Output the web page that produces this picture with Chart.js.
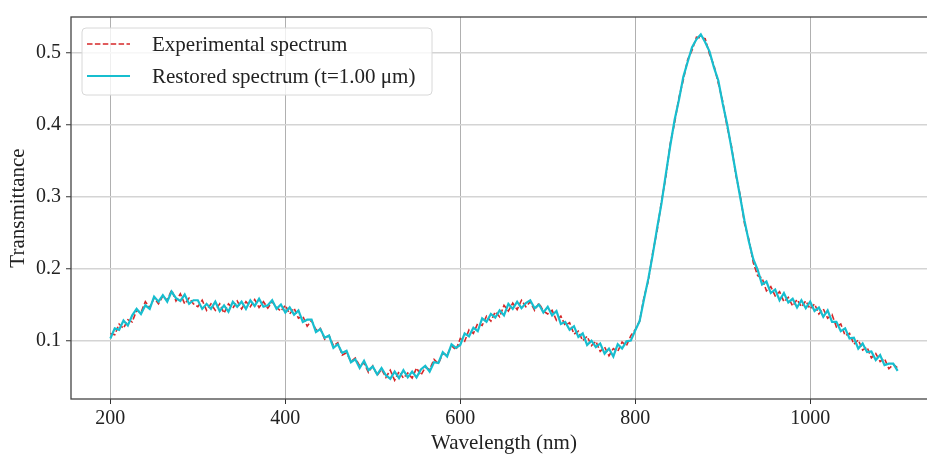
<!DOCTYPE html>
<html>
<head>
<meta charset="utf-8">
<script src="https://cdn.jsdelivr.net/npm/chart.js@4"></script>
<style>
  html, body { margin: 0; padding: 0; background: #fff; overflow: hidden; }
  #wrap { width: 945px; height: 454px; position: relative; }
</style>
</head>
<body>
<div id="wrap"><canvas id="spectrumChart"></canvas></div>
<script>
// wavelengths (nm)
const wavelengths = [
  200, 205, 210, 215, 220, 225, 230, 235, 240, 245, 250, 255, 260, 265, 270, 275, 280, 285, 290, 295,
  300, 305, 310, 315, 320, 325, 330, 335, 340, 345, 350, 355, 360, 365, 370, 375, 380, 385, 390, 395,
  400, 405, 410, 415, 420, 425, 430, 435, 440, 445, 450, 455, 460, 465, 470, 475, 480, 485, 490, 495,
  500, 505, 510, 515, 520, 525, 530, 535, 540, 545, 550, 555, 560, 565, 570, 575, 580, 585, 590, 595,
  600, 605, 610, 615, 620, 625, 630, 635, 640, 645, 650, 655, 660, 665, 670, 675, 680, 685, 690, 695,
  700, 705, 710, 715, 720, 725, 730, 735, 740, 745, 750, 755, 760, 765, 770, 775, 780, 785, 790, 795,
  800, 805, 810, 815, 820, 825, 830, 835, 840, 845, 850, 855, 860, 865, 870, 875, 880, 885, 890, 895,
  900, 905, 910, 915, 920, 925, 930, 935, 940, 945, 950, 955, 960, 965, 970, 975, 980, 985, 990, 995,
  1000, 1005, 1010, 1015, 1020, 1025, 1030, 1035, 1040, 1045, 1050, 1055, 1060, 1065, 1070, 1075, 1080, 1085, 1090, 1095,
  1100
];

// measured spectrum (red dashed)
const experimental = [
  0.110, 0.108, 0.123, 0.117, 0.129, 0.126, 0.142, 0.139, 0.154, 0.146, 0.159, 0.151, 0.162, 0.156, 0.170, 0.155, 0.165, 0.151, 0.159, 0.151,
  0.147, 0.156, 0.142, 0.151, 0.142, 0.151, 0.138, 0.151, 0.145, 0.155, 0.144, 0.154, 0.147, 0.157, 0.146, 0.154, 0.145, 0.154, 0.146, 0.141,
  0.149, 0.137, 0.145, 0.131, 0.134, 0.120, 0.128, 0.115, 0.117, 0.102, 0.107, 0.093, 0.097, 0.080, 0.083, 0.071, 0.076, 0.065, 0.069, 0.056,
  0.065, 0.052, 0.060, 0.049, 0.059, 0.045, 0.057, 0.048, 0.055, 0.048, 0.062, 0.052, 0.063, 0.060, 0.074, 0.068, 0.082, 0.080, 0.093, 0.087,
  0.103, 0.099, 0.115, 0.110, 0.124, 0.121, 0.134, 0.127, 0.140, 0.133, 0.149, 0.141, 0.152, 0.143, 0.156, 0.147, 0.154, 0.142, 0.152, 0.141,
  0.137, 0.142, 0.128, 0.134, 0.121, 0.125, 0.109, 0.113, 0.100, 0.106, 0.093, 0.099, 0.085, 0.091, 0.079, 0.089, 0.085, 0.098, 0.093, 0.107,
  0.115, 0.127, 0.160, 0.183, 0.222, 0.252, 0.293, 0.327, 0.373, 0.402, 0.437, 0.462, 0.490, 0.503, 0.521, 0.520, 0.519, 0.497, 0.482, 0.457,
  0.432, 0.397, 0.370, 0.330, 0.302, 0.262, 0.240, 0.208, 0.190, 0.187, 0.169, 0.175, 0.162, 0.168, 0.154, 0.160, 0.148, 0.157, 0.147, 0.155,
  0.144, 0.151, 0.137, 0.144, 0.131, 0.136, 0.119, 0.123, 0.107, 0.110, 0.095, 0.101, 0.087, 0.091, 0.076, 0.082, 0.071, 0.075, 0.061, 0.067,
  0.062
];

// restored spectrum (cyan)
const restored = [
  0.103, 0.117, 0.115, 0.128, 0.121, 0.135, 0.144, 0.137, 0.149, 0.144, 0.161, 0.154, 0.163, 0.154, 0.168, 0.159, 0.155, 0.164, 0.151, 0.156,
  0.156, 0.144, 0.151, 0.144, 0.154, 0.141, 0.149, 0.140, 0.154, 0.147, 0.154, 0.144, 0.156, 0.148, 0.158, 0.147, 0.149, 0.156, 0.144, 0.150,
  0.139, 0.146, 0.136, 0.142, 0.126, 0.129, 0.129, 0.112, 0.116, 0.104, 0.107, 0.090, 0.095, 0.083, 0.086, 0.070, 0.074, 0.062, 0.072, 0.059,
  0.064, 0.053, 0.062, 0.052, 0.047, 0.057, 0.048, 0.059, 0.049, 0.057, 0.049, 0.060, 0.065, 0.057, 0.070, 0.069, 0.084, 0.078, 0.095, 0.090,
  0.094, 0.110, 0.106, 0.118, 0.113, 0.131, 0.126, 0.137, 0.132, 0.142, 0.135, 0.151, 0.144, 0.154, 0.145, 0.152, 0.156, 0.145, 0.150, 0.139,
  0.147, 0.135, 0.141, 0.123, 0.126, 0.115, 0.120, 0.105, 0.110, 0.094, 0.100, 0.091, 0.096, 0.082, 0.089, 0.078, 0.095, 0.089, 0.099, 0.100,
  0.114, 0.127, 0.157, 0.186, 0.219, 0.256, 0.290, 0.331, 0.370, 0.406, 0.434, 0.466, 0.487, 0.507, 0.518, 0.525, 0.514, 0.501, 0.479, 0.461,
  0.429, 0.401, 0.367, 0.333, 0.299, 0.266, 0.237, 0.213, 0.198, 0.178, 0.182, 0.166, 0.171, 0.156, 0.166, 0.153, 0.158, 0.146, 0.156, 0.145,
  0.154, 0.141, 0.146, 0.133, 0.142, 0.126, 0.126, 0.113, 0.117, 0.103, 0.104, 0.089, 0.096, 0.084, 0.085, 0.073, 0.080, 0.066, 0.068, 0.068,
  0.058
];

const xTicks = [200, 400, 600, 800, 1000];
const yTicks = [0.1, 0.2, 0.3, 0.4, 0.5];

const legendLabels = ['Experimental spectrum', 'Restored spectrum (t=1.00 μm)'];

const serif = '"Liberation Serif", "Times New Roman", serif';
const RED = '#d62728';
const CYAN = '#17becf';

function toPoints(values) {
  return wavelengths.map((w, i) => ({ x: w, y: values[i] }));
}

// frame + matplotlib-style legend box
const framePlugin = {
  id: 'frame',
  afterDraw(chart) {
    const { ctx, chartArea } = chart;
    ctx.save();
    ctx.strokeStyle = '#444';
    ctx.lineWidth = 1.3;
    ctx.strokeRect(chartArea.left, chartArea.top, chartArea.right - chartArea.left, chartArea.bottom - chartArea.top);

    // legend
    const bx = chartArea.left + 11, by = chartArea.top + 11, bw = 350, bh = 67;
    ctx.beginPath();
    ctx.roundRect(bx, by, bw, bh, 4);
    ctx.fillStyle = 'rgba(255,255,255,0.8)';
    ctx.fill();
    ctx.strokeStyle = '#d8d8d8';
    ctx.lineWidth = 1;
    ctx.stroke();

    const lx0 = bx + 5, lx1 = bx + 48;
    const rows = [by + 16, by + 48];

    ctx.beginPath();
    ctx.setLineDash([5.5, 2.4]);
    ctx.strokeStyle = RED;
    ctx.lineWidth = 1.5;
    ctx.moveTo(lx0, rows[0]);
    ctx.lineTo(lx1, rows[0]);
    ctx.stroke();

    ctx.beginPath();
    ctx.setLineDash([]);
    ctx.strokeStyle = CYAN;
    ctx.lineWidth = 2;
    ctx.moveTo(lx0, rows[1]);
    ctx.lineTo(lx1, rows[1]);
    ctx.stroke();

    ctx.fillStyle = '#222';
    ctx.font = '21px ' + serif;
    ctx.textBaseline = 'middle';
    ctx.textAlign = 'left';
    ctx.fillText(legendLabels[0], bx + 70, rows[0] + 1);
    ctx.fillText(legendLabels[1], bx + 70, rows[1] + 1);
    ctx.restore();
  }
};

const ctx = document.getElementById('spectrumChart').getContext('2d');
window.spectrumChart = new Chart(ctx, {
  type: 'line',
  data: {
    datasets: [
      {
        label: legendLabels[1],
        data: toPoints(restored),
        borderColor: CYAN,
        borderWidth: 2.2,
        pointRadius: 0,
        tension: 0,
        fill: false
      },
      {
        label: legendLabels[0],
        data: toPoints(experimental),
        borderColor: RED,
        borderWidth: 1.6,
        borderDash: [5.5, 2.4],
        pointRadius: 0,
        tension: 0,
        fill: false
      }
    ]
  },
  options: {
    responsive: true,
    maintainAspectRatio: false,
    devicePixelRatio: 1,
    animation: false,
    layout: { padding: { top: 12, right: 8, left: 0, bottom: 0 } },
    plugins: {
      legend: { display: false },
      tooltip: { enabled: false }
    },
    scales: {
      x: {
        type: 'linear',
        min: 155,
        max: 1145,
        afterBuildTicks: scale => { scale.ticks = xTicks.map(v => ({ value: v })); },
        afterFit: scale => { scale.height = 55; },
        grid: { color: '#b0b0b0', lineWidth: 1, tickLength: 5, tickColor: '#333', tickWidth: 1 },
        border: { display: false },
        ticks: {
          color: '#222',
          font: { family: serif, size: 20 },
          padding: 3,
          maxRotation: 0,
          callback: v => String(v)
        },
        title: {
          display: true,
          text: 'Wavelength (nm)',
          color: '#222',
          font: { family: serif, size: 21, lineHeight: 1 },
          padding: { top: 0, bottom: 0 }
        }
      },
      y: {
        type: 'linear',
        min: 0.019,
        max: 0.549,
        afterBuildTicks: scale => { scale.ticks = yTicks.map(v => ({ value: v })); },
        afterFit: scale => { scale.width = 71; },
        grid: { color: '#d4d4d4', lineWidth: 1.5, tickLength: 5, tickColor: '#333', tickWidth: 1 },
        border: { display: false },
        ticks: {
          color: '#222',
          font: { family: serif, size: 20 },
          padding: 5,
          callback: v => v.toFixed(1)
        },
        title: {
          display: true,
          text: 'Transmittance',
          color: '#222',
          font: { family: serif, size: 21, lineHeight: 1 },
          padding: { top: 8, bottom: 0 }
        }
      }
    }
  },
  plugins: [framePlugin]
});
</script>
</body>
</html>
